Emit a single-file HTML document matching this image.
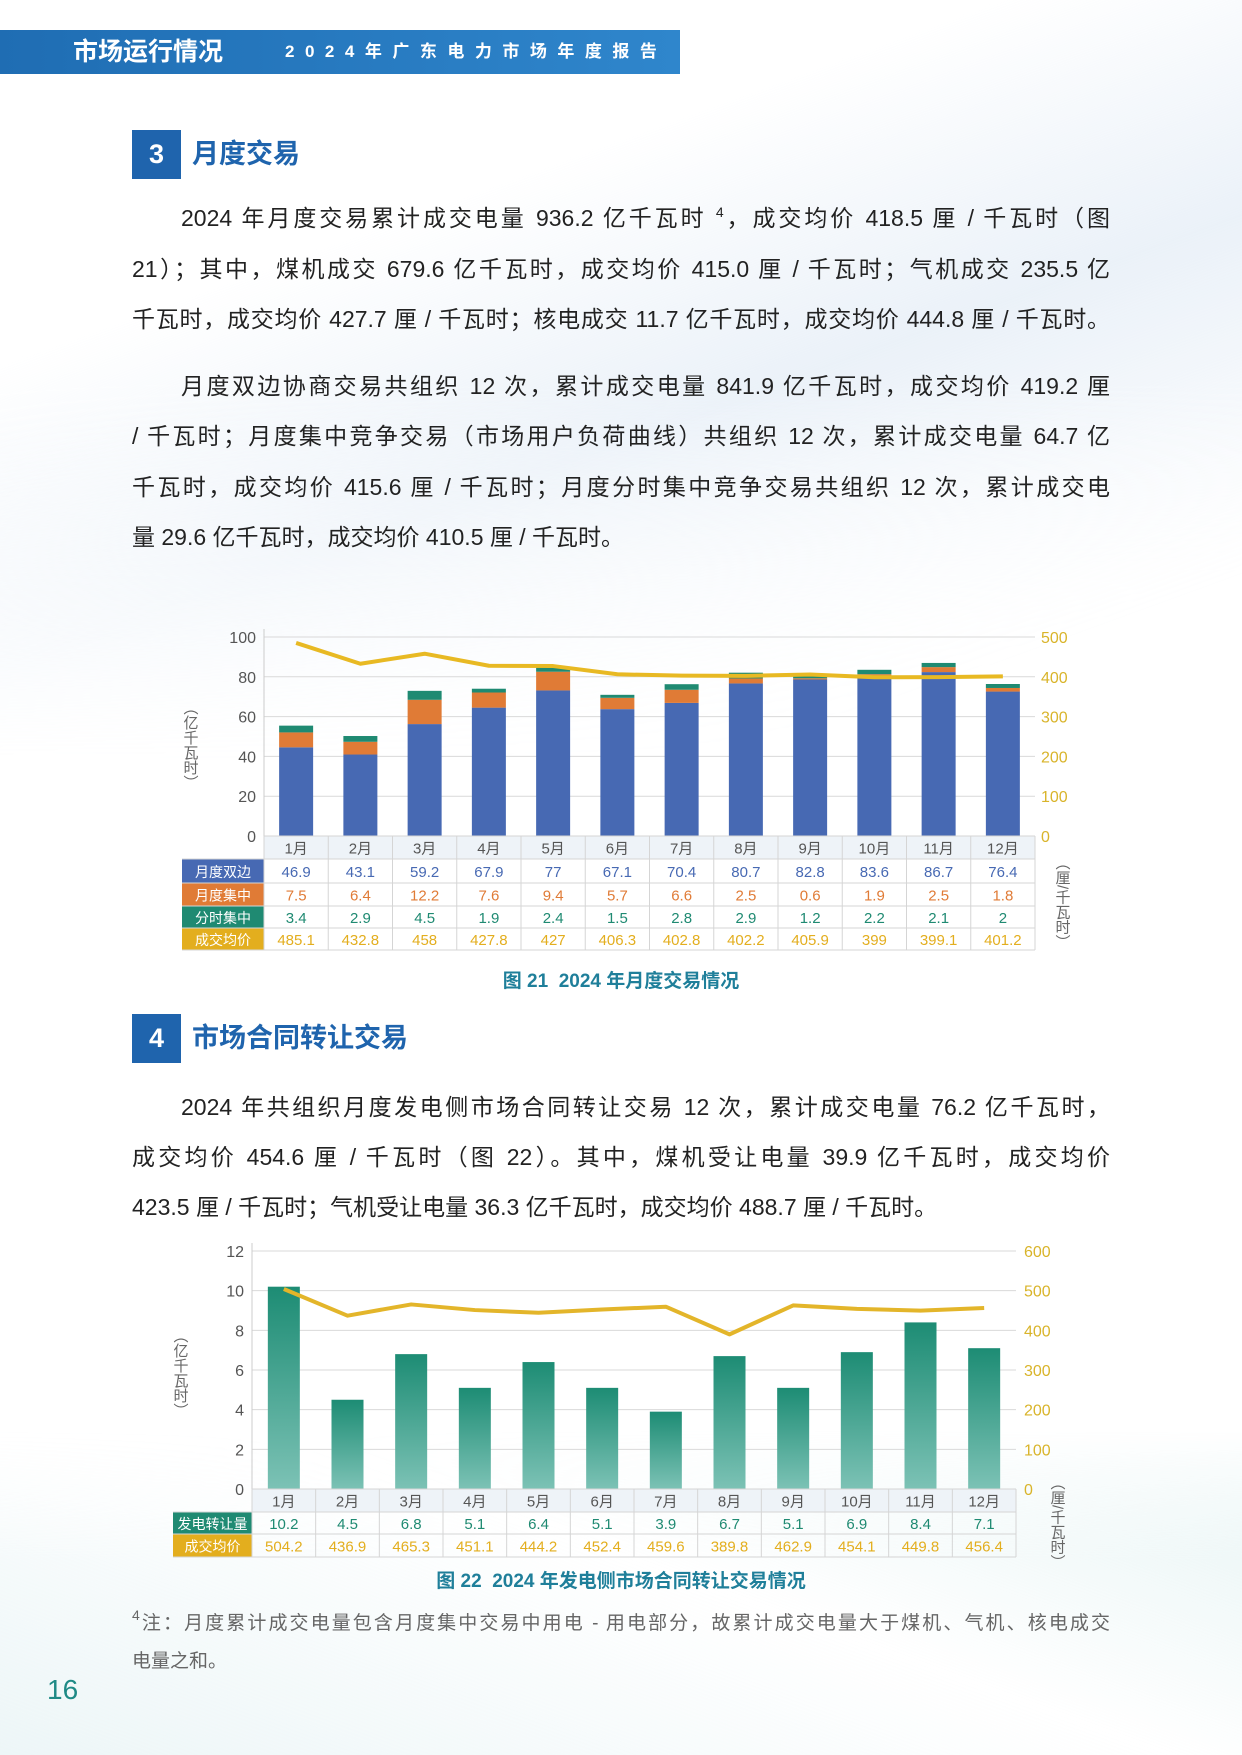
<!DOCTYPE html>
<html><head><meta charset="utf-8">
<style>
*{margin:0;padding:0;box-sizing:border-box}
body{width:1242px;height:1755px;position:relative;overflow:hidden;background:#fff;font-family:"Liberation Sans","Noto Sans CJK SC",sans-serif;color:#222}
.bg1{position:absolute;left:0;top:0;width:1242px;height:760px;background:linear-gradient(160deg,rgba(225,235,245,0.0) 30%,rgba(215,228,242,0.5) 55%,rgba(255,255,255,0) 85%);-webkit-mask-image:linear-gradient(180deg,#000 50%,transparent 100%);mask-image:linear-gradient(180deg,#000 50%,transparent 100%)}
.bg2{position:absolute;left:0;top:1430px;width:1242px;height:325px;background:linear-gradient(200deg,rgba(200,230,230,0.45) 0%,rgba(255,255,255,0) 45%,rgba(215,235,238,0.45) 100%);-webkit-mask-image:linear-gradient(0deg,#000 60%,transparent 100%);mask-image:linear-gradient(0deg,#000 60%,transparent 100%)}
.hdr{position:absolute;left:0;top:30px;width:680px;height:44px;background:linear-gradient(90deg,#1f6db3,#2f86cc)}
.hdr .t{position:absolute;left:73px;top:5px;font-size:25px;font-weight:bold;color:#fff;line-height:34px}
.hdr .s{position:absolute;left:285px;top:8px;font-size:17px;color:#fff;letter-spacing:10.5px;line-height:28px;font-weight:bold}
.box{position:absolute;width:49px;height:49px;background:#1f64ad;color:#fff;font-size:27px;font-weight:bold;text-align:center;line-height:49px}
.sec{position:absolute;font-size:27px;font-weight:bold;color:#1f64ad;line-height:40px}
.ln{position:absolute;left:132px;width:978px;height:34px;line-height:34px;font-size:23px;text-align:justify;text-align-last:justify;white-space:nowrap;overflow:visible}
.ln.i{left:181px;width:929px}
.ln.l{text-align-last:left}
.cap{position:absolute;width:1242px;text-align:center;font-size:19px;color:#1f7f9a;font-weight:bold}
.fn{position:absolute;left:132px;width:978px;font-size:19px;color:#666;line-height:28px;text-align-last:justify;text-align:justify}
sup{font-size:14px;vertical-align:9px;line-height:0}
</style></head><body>
<div class="bg1"></div><div class="bg2"></div>
<div class="hdr"><div class="t">市场运行情况</div><div class="s">2024年广东电力市场年度报告</div></div>
<div class="box" style="left:132px;top:130px">3</div>
<div class="sec" style="left:192px;top:134px">月度交易</div>
<div class="ln i" style="top:201px">2024 年月度交易累计成交电量 936.2 亿千瓦时 <sup>4</sup>，成交均价 418.5 厘 / 千瓦时（图</div>
<div class="ln" style="top:252px">21）；其中，煤机成交 679.6 亿千瓦时，成交均价 415.0 厘 / 千瓦时；气机成交 235.5 亿</div>
<div class="ln" style="top:302px">千瓦时，成交均价 427.7 厘 / 千瓦时；核电成交 11.7 亿千瓦时，成交均价 444.8 厘 / 千瓦时。</div>
<div class="ln i" style="top:369px">月度双边协商交易共组织 12 次，累计成交电量 841.9 亿千瓦时，成交均价 419.2 厘</div>
<div class="ln" style="top:419px">/ 千瓦时；月度集中竞争交易（市场用户负荷曲线）共组织 12 次，累计成交电量 64.7 亿</div>
<div class="ln" style="top:470px">千瓦时，成交均价 415.6 厘 / 千瓦时；月度分时集中竞争交易共组织 12 次，累计成交电</div>
<div class="ln l" style="top:520px">量 29.6 亿千瓦时，成交均价 410.5 厘 / 千瓦时。</div>

<svg id="c1" style="position:absolute;left:0;top:600px" width="1242" height="370"></svg>
<div class="cap" style="top:966px">图 21 &nbsp;2024 年月度交易情况</div>

<div class="box" style="left:132px;top:1014px">4</div>
<div class="sec" style="left:192px;top:1018px">市场合同转让交易</div>
<div class="ln i" style="top:1090px">2024 年共组织月度发电侧市场合同转让交易 12 次，累计成交电量 76.2 亿千瓦时，</div>
<div class="ln" style="top:1140px">成交均价 454.6 厘 / 千瓦时（图 22）。其中，煤机受让电量 39.9 亿千瓦时，成交均价</div>
<div class="ln l" style="top:1190px">423.5 厘 / 千瓦时；气机受让电量 36.3 亿千瓦时，成交均价 488.7 厘 / 千瓦时。</div>

<svg id="c2" style="position:absolute;left:0;top:1230px" width="1242" height="340"></svg>
<div class="cap" style="top:1566px">图 22 &nbsp;2024 年发电侧市场合同转让交易情况</div>

<div class="fn" style="top:1610px"><sup>4</sup>注：月度累计成交电量包含月度集中交易中用电 - 用电部分，故累计成交电量大于煤机、气机、核电成交</div>
<div class="fn" style="top:1648px;text-align-last:left">电量之和。</div>
<div style="position:absolute;left:47px;top:1672px;font-size:28px;color:#1f8a86;line-height:36px">16</div>

<script>
const NS="http://www.w3.org/2000/svg";
function el(svg,tag,attrs,text){const e=document.createElementNS(NS,tag);for(const k in attrs)e.setAttribute(k,attrs[k]);if(text!==undefined)e.textContent=text;svg.appendChild(e);return e;}
const F='Liberation Sans, Noto Sans CJK SC, sans-serif';
const M=["1月","2月","3月","4月","5月","6月","7月","8月","9月","10月","11月","12月"];
(function(){
 const s=document.getElementById('c1');const o=600;
 const L=264,R=1035,y0=836-o,y100=637-o;const u=(y0-y100)/100;const cw=(R-L)/12;
 const A=[46.9,43.1,59.2,67.9,77,67.1,70.4,80.7,82.8,83.6,86.7,76.4];
 const B=[7.5,6.4,12.2,7.6,9.4,5.7,6.6,2.5,0.6,1.9,2.5,1.8];
 const C=[3.4,2.9,4.5,1.9,2.4,1.5,2.8,2.9,1.2,2.2,2.1,2];
 const P=[485.1,432.8,458,427.8,427,406.3,402.8,402.2,405.9,399,399.1,401.2];
 for(let i=0;i<=5;i++){const y=y0-i*20*u;
  el(s,'line',{x1:L,x2:R,y1:y,y2:y,stroke:'#d9d9d9','stroke-width':1});
  el(s,'text',{x:L-8,y:y+6,'text-anchor':'end','font-size':16,fill:'#555','font-family':F},i*20);
  el(s,'text',{x:R+6,y:y+6,'font-size':16,fill:'#d9b42a','font-family':F},i*100);}
 el(s,'line',{x1:L,x2:L,y1:y100-8,y2:y0,stroke:'#ccc'});
 const bw=34;const pts=[];
 for(let i=0;i<12;i++){const cx=L+cw*(i+0.5);let y=y0;
  [[A[i]*0.95,'#4769b3'],[B[i],'#e07b36'],[C[i],'#1f8a72']].forEach(([v,c])=>{const h=v*u;y-=h;el(s,'rect',{x:cx-bw/2,y:y,width:bw,height:h,fill:c});});
  pts.push(cx+','+(y0-P[i]/5*u));}
 el(s,'polyline',{points:pts.join(' '),fill:'none',stroke:'#e8b923','stroke-width':4,'stroke-linejoin':'round'});
 const rows=[[836,859],[859,883],[883,906],[906,928],[928,950]].map(r=>[r[0]-o,r[1]-o]);
 const LC=182;
 el(s,'rect',{x:L,y:rows[0][0],width:R-L,height:rows[0][1]-rows[0][0],fill:'#eef3f8'});
 const labs=[['月度双边','#4769b3'],['月度集中','#e07b36'],['分时集中','#1f8a72'],['成交均价','#e3ae1e']];
 const data=[A,B,C,P];
 for(let r=0;r<4;r++){const [a,b]=rows[r+1];
  el(s,'rect',{x:LC,y:a,width:L-LC,height:b-a,fill:labs[r][1]});
  el(s,'text',{x:(LC+L)/2,y:(a+b)/2+6,'text-anchor':'middle','font-size':14,fill:'#fff','font-family':F},labs[r][0]);
  for(let i=0;i<12;i++)el(s,'text',{x:L+cw*(i+0.5),y:(a+b)/2+6,'text-anchor':'middle','font-size':15,fill:labs[r][1],'font-family':F},data[r][i]);}
 for(let i=0;i<12;i++)el(s,'text',{x:L+cw*(i+0.5),y:(rows[0][0]+rows[0][1])/2+6,'text-anchor':'middle','font-size':15,fill:'#555','font-family':F},M[i]);
 for(let r=0;r<=5;r++){el(s,'line',{x1:r==0?L:LC,x2:R,y1:rows[r==5?4:r][r==5?1:0],y2:rows[r==5?4:r][r==5?1:0],stroke:'#d5d5d5'});}
 for(let i=0;i<=12;i++){const x=L+cw*i;el(s,'line',{x1:x,x2:x,y1:rows[0][0],y2:rows[4][1],stroke:'#d5d5d5'});}
 el(s,'text',{x:190,y:700-o,'font-size':15,fill:'#666','font-family':F,'writing-mode':'tb'},'（亿千瓦时）');
 el(s,'text',{x:1062,y:855-o,'font-size':15,fill:'#666','font-family':F,'writing-mode':'tb'},'（厘/千瓦时）');
})();
(function(){
 const s=document.getElementById('c2');const o=1230;
 const L=252,R=1016,y0=1489-o,yT=1251-o;const u=(y0-yT)/12;const cw=(R-L)/12;
 const V=[10.2,4.5,6.8,5.1,6.4,5.1,3.9,6.7,5.1,6.9,8.4,7.1];
 const P=[504.2,436.9,465.3,451.1,444.2,452.4,459.6,389.8,462.9,454.1,449.8,456.4];
 const d=el(s,'defs',{});const g=el(d,'linearGradient',{id:'tg',x1:0,y1:0,x2:0,y2:1});
 el(g,'stop',{offset:'0','stop-color':'#1d8c74'});el(g,'stop',{offset:'1','stop-color':'#7cc2b5'});
 for(let i=0;i<=6;i++){const y=y0-i*2*u;
  el(s,'line',{x1:L,x2:R,y1:y,y2:y,stroke:'#d9d9d9'});
  el(s,'text',{x:L-8,y:y+6,'text-anchor':'end','font-size':16,fill:'#555','font-family':F},i*2);
  el(s,'text',{x:R+8,y:y+6,'font-size':16,fill:'#d9b42a','font-family':F},i*100);}
 el(s,'line',{x1:L,x2:L,y1:yT-8,y2:y0,stroke:'#ccc'});
 const bw=32;const pts=[];
 for(let i=0;i<12;i++){const cx=L+cw*(i+0.5);const h=V[i]*u;
  el(s,'rect',{x:cx-bw/2,y:y0-h,width:bw,height:h,fill:'url(#tg)'});
  pts.push(cx+','+(y0-P[i]/50*u));}
 el(s,'polyline',{points:pts.join(' '),fill:'none',stroke:'#e3b52a','stroke-width':4,'stroke-linejoin':'round'});
 const rows=[[1489,1512],[1512,1534],[1534,1557]].map(r=>[r[0]-o,r[1]-o]);
 const LC=173;
 el(s,'rect',{x:L,y:rows[0][0],width:R-L,height:rows[0][1]-rows[0][0],fill:'#eef3f8'});
 const labs=[['发电转让量','#1f8a72'],['成交均价','#e3ae1e']];const data=[V,P];
 for(let r=0;r<2;r++){const [a,b]=rows[r+1];
  el(s,'rect',{x:LC,y:a,width:L-LC,height:b-a,fill:labs[r][1]});
  el(s,'text',{x:(LC+L)/2,y:(a+b)/2+6,'text-anchor':'middle','font-size':14,fill:'#fff','font-family':F},labs[r][0]);
  for(let i=0;i<12;i++)el(s,'text',{x:L+cw*(i+0.5),y:(a+b)/2+6,'text-anchor':'middle','font-size':15,fill:labs[r][1],'font-family':F},data[r][i]);}
 for(let i=0;i<12;i++)el(s,'text',{x:L+cw*(i+0.5),y:(rows[0][0]+rows[0][1])/2+6,'text-anchor':'middle','font-size':15,fill:'#555','font-family':F},M[i]);
 [rows[0][0],rows[1][0],rows[2][0],rows[2][1]].forEach((y,k)=>el(s,'line',{x1:k==0?L:LC,x2:R,y1:y,y2:y,stroke:'#d5d5d5'}));
 for(let i=0;i<=12;i++){const x=L+cw*i;el(s,'line',{x1:x,x2:x,y1:rows[0][0],y2:rows[2][1],stroke:'#d5d5d5'});}
 el(s,'text',{x:180,y:1328-o,'font-size':15,fill:'#666','font-family':F,'writing-mode':'tb'},'（亿千瓦时）');
 el(s,'text',{x:1057,y:1475-o,'font-size':15,fill:'#666','font-family':F,'writing-mode':'tb'},'（厘/千瓦时）');
})();
</script>
</body></html>
